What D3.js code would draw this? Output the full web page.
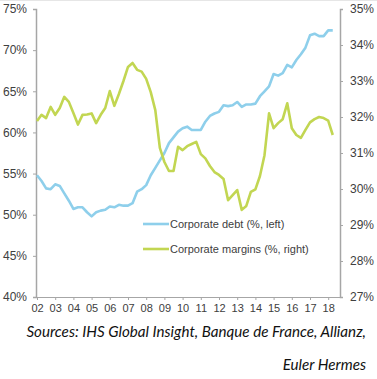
<!DOCTYPE html>
<html><head><meta charset="utf-8">
<script src="https://cdn.jsdelivr.net/npm/d3@7"></script>
<style>body{margin:0;background:#fff}svg{display:block}</style>
</head><body>
<svg id="c" width="377" height="379"></svg>
<script>
const startYear = 2002; // quarterly data from 2002 Q1
const debt = [54.8,54.1,53.2,53.1,53.7,53.5,52.6,51.7,50.7,50.9,50.9,50.3,49.8,50.3,50.5,50.6,51.0,50.9,51.2,51.1,51.1,51.4,52.8,53.1,53.6,54.8,55.7,56.6,57.5,58.7,59.4,60.1,60.5,60.7,60.3,60.3,60.3,61.3,62.0,62.3,62.5,63.3,63.2,63.3,63.7,63.1,63.4,63.4,63.5,64.4,65.0,65.6,67.1,66.9,67.2,68.2,67.9,68.8,69.5,70.3,71.8,72.0,71.7,71.7,72.4,72.4];
const margins = [31.89,32.06,31.97,32.28,32.06,32.25,32.56,32.42,32.11,31.79,32.06,32.07,32.10,31.83,32.06,32.25,32.72,32.31,32.64,33.00,33.39,33.50,33.31,33.26,33.06,32.69,32.19,31.14,30.75,30.50,30.50,31.17,31.08,31.19,31.25,31.31,30.97,30.85,30.64,30.47,30.39,30.28,29.69,29.83,29.97,29.42,29.53,29.92,29.99,30.36,30.94,32.10,31.69,31.83,31.94,32.38,31.69,31.50,31.42,31.64,31.85,31.94,32.00,31.97,31.90,31.50];
const leftTicks = [40,45,50,55,60,65,70,75];
const rightTicks = [27,28,29,30,31,32,33,34,35];
const yearTicks = d3.range(2002, 2019);
const seriesNames = ["Corporate debt (%, left)", "Corporate margins (%, right)"];
const sourceLines = ["Sources: IHS Global Insight, Banque de France, Allianz,", "Euler Hermes"];

const svg = d3.select("#c");
const L = 36, R = 340, T = 9, B = 297;
const x = d3.scaleLinear().domain([2002, 2018]).range([37, 328.2]);
const yL = d3.scaleLinear().domain([40, 75]).range([B, T]);
const yR = d3.scaleLinear().domain([27, 35]).range([B, T]);
const axisCol = "#a6a6a6", txtCol = "#404040";
const font = "Liberation Sans, Arial, sans-serif";

svg.append("line").attr("x1",0).attr("x2",377).attr("y1",0.5).attr("y2",0.5).attr("stroke","#e6e6e6");

const gl = svg.append("g").attr("transform",`translate(${L},0)`)
  .call(d3.axisLeft(yL).tickValues(leftTicks).tickSize(3).tickPadding(6).tickFormat(d=>d+"%"));
const gr = svg.append("g").attr("transform",`translate(${R},0)`)
  .call(d3.axisRight(yR).tickValues(rightTicks).tickSize(3).tickPadding(7).tickFormat(d=>d+"%"));
const gb = svg.append("g").attr("transform",`translate(0,${B})`)
  .call(d3.axisBottom(x).tickValues(yearTicks).tickSize(3).tickPadding(4).tickFormat(d=>String(d).slice(2)));
gb.select(".domain").remove();
svg.append("line").attr("x1",L).attr("x2",R).attr("y1",B+0.5).attr("y2",B+0.5).attr("stroke",axisCol);
[gl,gr,gb].forEach(g=>{
  g.selectAll(".domain").attr("stroke",axisCol).attr("stroke-width",1.5);
  g.selectAll(".tick line").attr("stroke",axisCol);
  g.selectAll("text").attr("fill",txtCol).style("font-family",font);
});
gl.selectAll("text").style("font-size","12px");
gr.selectAll("text").style("font-size","12px");
gb.selectAll("text").style("font-size","11px");

const blue = "#8ecfeb", green = "#c2d652";
const t = i => startYear + i/4;
svg.append("path").datum(debt)
  .attr("d", d3.line().x((d,i)=>x(t(i))).y(d=>yL(d)))
  .attr("fill","none").attr("stroke",blue).attr("stroke-width",2.6).attr("stroke-linejoin","round");
svg.append("path").datum(margins)
  .attr("d", d3.line().x((d,i)=>x(t(i))).y(d=>yR(d)))
  .attr("fill","none").attr("stroke",green).attr("stroke-width",2.6).attr("stroke-linejoin","round");

const leg = [{c:blue,y:224},{c:green,y:249}];
leg.forEach((l,k)=>{
  svg.append("line").attr("x1",143).attr("x2",169).attr("y1",l.y).attr("y2",l.y).attr("stroke",l.c).attr("stroke-width",2.6);
  svg.append("text").attr("x",170).attr("y",l.y+4).text(seriesNames[k])
    .attr("fill",txtCol).style("font-family",font).style("font-size","11px");
});

// source: font size fitted so the first line spans the reference width
const srcTexts = sourceLines.map((s,k)=>
  svg.append("text").attr("x",366).attr("y",[337,370][k]).attr("text-anchor","end").text(s)
    .attr("fill","#111").style("font-family","Lato, 'Open Sans', sans-serif").style("font-style","italic").style("font-size","17px"));
const w1 = srcTexts[0].node().getComputedTextLength();
const fs = Math.min(17, 17 * 340 / w1);
srcTexts.forEach(tx=>tx.style("font-size", fs + "px"));
</script>
</body></html>
